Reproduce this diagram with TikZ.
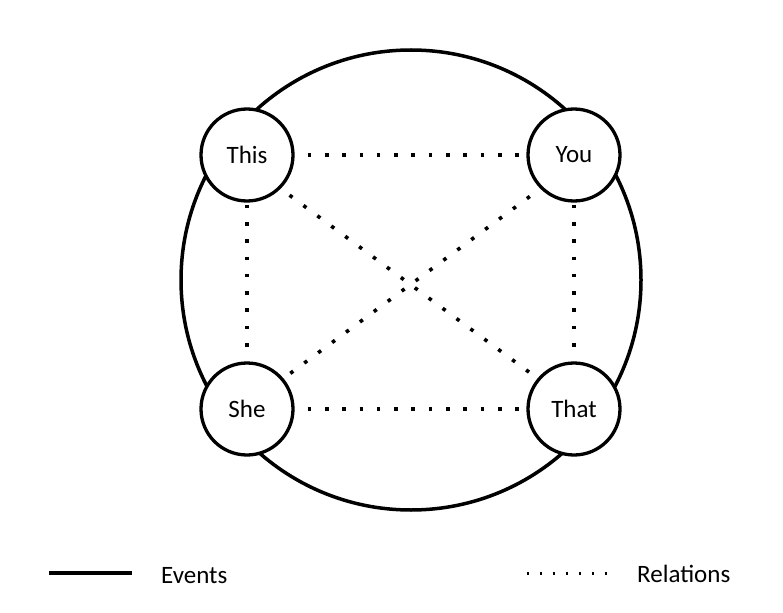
\documentclass[tikz,border=0pt]{standalone}
\usepackage{fontspec}
\setmainfont{Carlito}

\begin{document}
\begin{tikzpicture}[x=1pt,y=-1pt,font=\fontsize{25}{30}\selectfont,
   event/.style={shape=circle,draw=black,line width=3.3pt,fill=white,minimum size=92pt,inner sep=0pt},
   relation/.style={line width=3.6pt,dash pattern=on 3.6pt off 13.7pt},
   legend/.style={anchor=west,inner sep=0pt}]

   \useasboundingbox (0,0) rectangle (783,612);

   \node[shape=circle,draw=black,line width=3.5pt,minimum size=460pt] (0) at (411,280) {};

   \node[event] (1) at (247,155) {This};
   \node[event] (2) at (574,155) {You};
   \node[event] (3) at (247,409) {She};
   \node[event] (4) at (574,409) {That};

    \draw[relation,shorten <=13pt,shorten >=6pt] (1) -- (2);
    \draw[relation,shorten <=13pt,shorten >=6pt] (3) -- (4);
    \draw[relation,shorten <=2pt,shorten >=14pt] (1) -- (3);
    \draw[relation,shorten <=2pt,shorten >=14pt] (2) -- (4);
    \draw[relation,shorten <=11pt,shorten >=10.5pt] (1.-45) -- (4.140);
    \draw[relation,shorten <=8.5pt,shorten >=13pt] (3.40) -- (2.-135);

   \coordinate (e1) at (49,572.5);
   \coordinate (e2) at (132,572.5);
   \coordinate (r1) at (526.5,573.3);
   \coordinate (r2) at (607.5,573.3);
    \draw[line width=4pt] (e1) -- (e2);
    \draw[line width=2.4pt,dash pattern=on 2.4pt off 10.6pt] (r1) -- (r2);
   \node[legend] (events) at (161,575.3) {Events};
   \node[legend] (relations) at (637,574.2) {Relations};

\end{tikzpicture}
\end{document}
